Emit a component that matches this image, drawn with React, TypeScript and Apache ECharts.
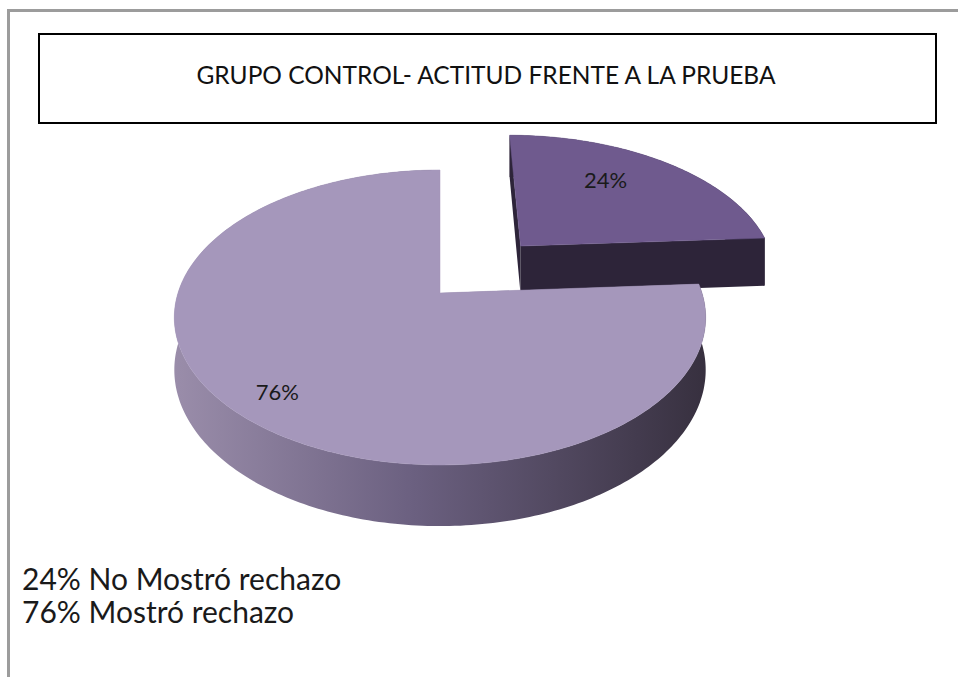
import React, { useEffect, useRef } from "react";
import * as echarts from "echarts";

const TITLE = "GRUPO CONTROL- ACTITUD FRENTE A LA PRUEBA";
const categories = ["No Mostró rechazo", "Mostró rechazo"];
const values = [24, 76];
const sliceLabels = ["24%", "76%"];
const exploded = [true, false];

// styling
const topColors = ["#6F5A8E", "#A597BB"];
const wallColors = ["#2D2439", "gradient"];
const labelRadius = [0.69, 0.83];
const labelAngleShift = [-7.6, -1];

const CX = 440;
const CY = 293;
const RA = 262;
const RB = 143.4;
const K = 0.166;
const DEPTH = 51;
const EXPLODE = 0.475;

function proj(X: number, Y: number, z: number): number[] {
  const s = 1 + K * Y;
  return [CX + (RA * X) / s, CY - (RB * Y) / s + (z * DEPTH) / s];
}

function arcPts(a0: number, a1: number, ox: number, oy: number, z: number): number[][] {
  const pts: number[][] = [];
  const n = Math.max(2, Math.ceil(Math.abs(a1 - a0) / 1));
  for (let j = 0; j <= n; j++) {
    const a = ((a0 + ((a1 - a0) * j) / n) * Math.PI) / 180;
    pts.push(proj(ox + Math.sin(a), oy + Math.cos(a), z));
  }
  return pts;
}

export default function App() {
  const ref = useRef<HTMLDivElement>(null);

  useEffect(() => {
    if (!ref.current) return;
    const chart = echarts.init(ref.current, null, { renderer: "svg" });
    const total = values.reduce((a, b) => a + b, 0);

    const renderItem = (params: any, api: any) => {
      const i = params.dataIndex;
      const v = api.value(0);
      let before = 0;
      for (let j = 0; j < i; j++) before += values[j];
      const a0 = (before / total) * 360;
      const a1 = a0 + (v / total) * 360;
      const mid = (((a0 + a1) / 2) * Math.PI) / 180;
      const off = exploded[i] ? EXPLODE : 0;
      const ox = off * Math.sin(mid);
      const oy = off * Math.cos(mid);
      const r0 = (a0 * Math.PI) / 180;
      const r1 = (a1 * Math.PI) / 180;

      const apexT = proj(ox, oy, 0);
      const apexB = proj(ox, oy, 1);
      const s0T = proj(ox + Math.sin(r0), oy + Math.cos(r0), 0);
      const s0B = proj(ox + Math.sin(r0), oy + Math.cos(r0), 1);
      const s1T = proj(ox + Math.sin(r1), oy + Math.cos(r1), 0);
      const s1B = proj(ox + Math.sin(r1), oy + Math.cos(r1), 1);

      const wallFill =
        wallColors[i] === "gradient"
          ? new echarts.graphic.LinearGradient(0, 0, 1, 0, [
              { offset: 0, color: "#9A8DAA" },
              { offset: 0.45, color: "#6B6080" },
              { offset: 1, color: "#37303F" },
            ])
          : wallColors[i];

      const topArc = arcPts(a0, a1, ox, oy, 0);
      const botArc = arcPts(a0, a1, ox, oy, 1).reverse();

      const la = mid + (labelAngleShift[i] * Math.PI) / 180;
      const lp = proj(ox + labelRadius[i] * Math.sin(la), oy + labelRadius[i] * Math.cos(la), 0);

      return {
        type: "group",
        children: [
          {
            type: "polygon",
            shape: { points: topArc.concat(botArc) },
            style: { fill: wallFill, stroke: "none" },
          },
          {
            type: "polygon",
            shape: { points: [apexT, s0T, s0B, apexB] },
            style: { fill: wallColors[i] === "gradient" ? "#8C809E" : wallColors[i] },
          },
          {
            type: "polygon",
            shape: { points: [apexT, s1T, s1B, apexB] },
            style: { fill: wallColors[i] === "gradient" ? "#4A4256" : wallColors[i] },
          },
          {
            type: "polygon",
            shape: { points: [apexT].concat(topArc) },
            style: { fill: topColors[i], stroke: topColors[i], lineWidth: 0.5 },
          },
          {
            type: "text",
            x: lp[0],
            y: lp[1],
            style: {
              text: sliceLabels[i],
              fill: "#1a1a1a",
              font: "22px Lato",
              align: "center",
              verticalAlign: "middle",
            },
          },
        ],
      };
    };

    const legendLines = categories.map((c, i) => ({
      type: "text",
      x: 22,
      y: 578 + i * 33,
      style: {
        text: `${sliceLabels[i]} ${c}`,
        fill: "#1a1a1a",
        font: "30px Lato",
        align: "left",
        verticalAlign: "middle",
      },
    }));

    chart.setOption({
      animation: false,
      backgroundColor: "#ffffff",
      graphic: [
        {
          type: "rect",
          shape: { x: 8.5, y: 10.5, width: 1200, height: 1200 },
          style: { fill: "none", stroke: "#9C9C9C", lineWidth: 3 },
        },
        {
          type: "rect",
          shape: { x: 39, y: 34, width: 897, height: 89 },
          style: { fill: "#ffffff", stroke: "#000000", lineWidth: 2 },
        },
        {
          type: "text",
          x: 486,
          y: 74,
          style: {
            text: TITLE,
            fill: "#111111",
            font: "24.5px Lato",
            align: "center",
            verticalAlign: "middle",
          },
        },
        ...legendLines,
      ],
      series: [
        {
          type: "custom",
          coordinateSystem: "none",
          renderItem,
          data: values.map((v) => [v]),
        },
      ],
    });

    return () => chart.dispose();
  }, []);

  return (
    <div
      ref={ref}
      style={{ position: "fixed", left: 0, top: 0, width: 958, height: 677 }}
    />
  );
}
